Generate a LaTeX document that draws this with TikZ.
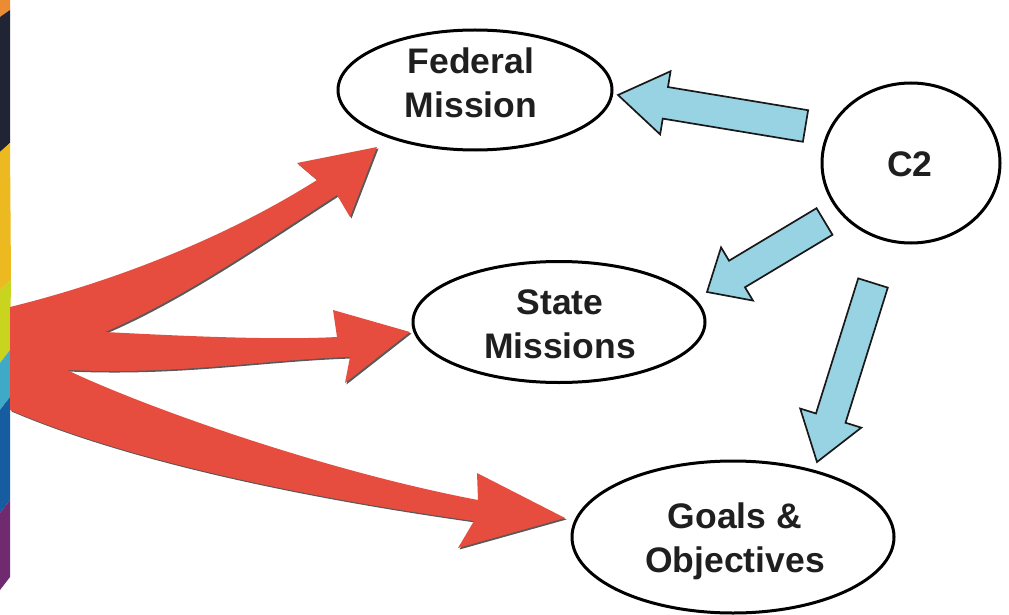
\documentclass[tikz,border=0pt]{standalone}
\usepackage{fontspec}
\setmainfont{Liberation Sans}
\usetikzlibrary{shapes.geometric,calc}
\definecolor{redarrow}{RGB}{231,77,62}
\definecolor{bluefill}{RGB}{152,211,228}
\definecolor{sOrange}{RGB}{236,140,50}
\definecolor{sNavy}{RGB}{32,36,52}
\definecolor{sYellow}{RGB}{236,186,32}
\definecolor{sLime}{RGB}{200,212,30}
\definecolor{sTeal}{RGB}{62,170,200}
\definecolor{sBlue}{RGB}{22,92,160}
\definecolor{sPurple}{RGB}{112,42,112}
\newcommand\redshape{%
  (10,307) .. controls (120,280) and (230,235) .. (317,180)
  -- (297,163) -- (377,147) -- (350,217) -- (337,195)
  .. controls (260,245) and (180,300) .. (105,332)
  .. controls (200,337) and (280,340) .. (337,337)
  -- (333,310) -- (410,332) -- (345,383) -- (350,357)
  .. controls (260,360) and (180,375) .. (67,370)
  .. controls (140,405) and (320,470) .. (478,500)
  -- (477,473) -- (565,518) -- (458,548) -- (474,521)
  .. controls (360,505) and (150,470) .. (10,410) -- cycle}
\newcommand\blkarrow[5]{% start, end, half shaft, half head, head length
  \coordinate (J) at ($(#2)!#5!(#1)$);
  \draw[bluearrow] ($(#1)!#3!90:(#2)$) -- ($(J)!#3!90:(#2)$) -- ($(J)!#4!90:(#2)$)
    -- (#2) -- ($(J)!#4!-90:(#2)$) -- ($(J)!#3!-90:(#2)$) -- ($(#1)!#3!-90:(#2)$) -- cycle;
}
\begin{document}
\begin{tikzpicture}[x=1pt,y=-1pt,
  oval/.style={ellipse, draw=black, line width=3pt, inner sep=0pt},
  lbl/.style={font=\bfseries\fontsize{35.5}{44}\selectfont, align=center, text=black!88, inner sep=0pt},
  bluearrow/.style={fill=bluefill, draw=black!90, line width=1.7pt, line join=miter}]
\useasboundingbox (0,0) rectangle (1009,615);
% coloured strip at the left edge
\fill[sOrange] (0,0) -- (10,0) -- (10,10) -- (0,17) -- cycle;
\fill[sNavy] (0,17) -- (10,10) -- (10,143) -- (0,152) -- cycle;
\fill[sYellow] (0,152) -- (10,143) -- (11,280) -- (0,290) -- cycle;
\fill[sLime] (0,290) -- (11,280) -- (10,350) -- (0,363) -- cycle;
\fill[sTeal] (0,363) -- (10,350) -- (10,397) -- (0,410) -- cycle;
\fill[sBlue] (0,410) -- (10,397) -- (10,500) -- (0,513) -- cycle;
\fill[sPurple] (0,513) -- (10,500) -- (10,577) -- (0,590) -- cycle;
% red fan of arrows
\fill[black!65, shift={(1.5,1.5)}] \redshape;
\fill[redarrow] \redshape;
% ovals
\node[oval, minimum width=274pt, minimum height=120pt] (fed) at (475,90) {};
\node[oval, minimum width=292pt, minimum height=121pt] (state) at (559,322) {};
\node[oval, minimum width=322pt, minimum height=152pt] (goals) at (733,537) {};
\node[oval, minimum width=178pt, minimum height=160pt] (c2) at (911,163) {};
\node[lbl] (fedt) at (471,83) {Federal\\Mission};
\node[lbl] (statet) at (560,324) {State\\Missions};
\node[lbl] (goalst) at (735,541) {Goals \&\\Objectives};
\node[lbl] (c2t) at (910,164) {C2};
% blue block arrows from C2
\coordinate (b1s) at (805.5,126); \coordinate (b1e) at (618,95);
\coordinate (b2s) at (824.5,221.5); \coordinate (b2e) at (707,292);
\coordinate (b3s) at (873,283); \coordinate (b3e) at (817,462);
\blkarrow{b1s}{b1e}{16pt}{32pt}{48pt}
\blkarrow{b2s}{b2e}{15.5pt}{31pt}{35pt}
\blkarrow{b3s}{b3e}{15.5pt}{32pt}{46pt}
\end{tikzpicture}
\end{document}
